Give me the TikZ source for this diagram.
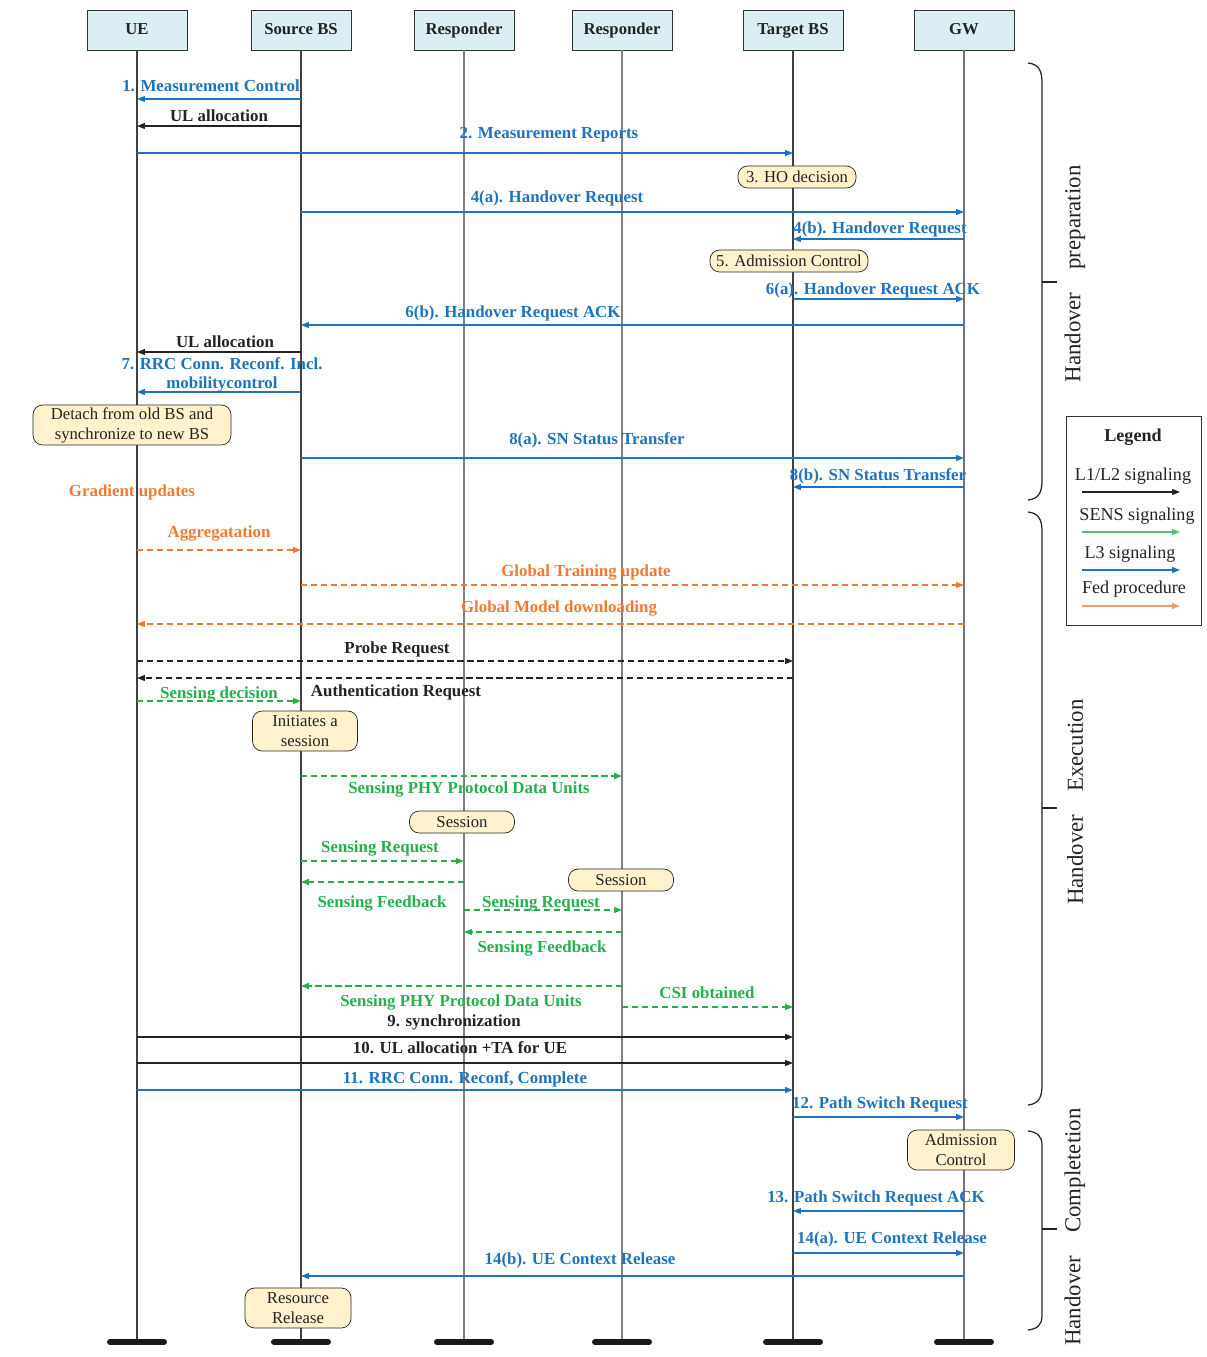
\documentclass[tikz,border=0pt]{standalone}
\usepackage{fontspec}
\setmainfont{Liberation Serif}
\usetikzlibrary{arrows.meta}

\definecolor{l3blue}{RGB}{30,115,190}
\definecolor{fedorange}{RGB}{240,122,50}
\definecolor{sensgreen}{RGB}{38,176,76}
\definecolor{headblue}{RGB}{218,238,243}
\definecolor{notefill}{RGB}{255,242,204}
\definecolor{inkblack}{RGB}{35,35,35}

\newcommand{\lblfont}{\fontsize{9.6pt}{11pt}\selectfont\bfseries}
\newcommand{\notefont}{\fontsize{9.5pt}{11.3pt}\selectfont}
\newcommand{\phasefont}{\fontsize{13pt}{15pt}\selectfont}
\newcommand{\legfont}{\fontsize{10.3pt}{12pt}\selectfont}

\tikzset{
  >={Triangle[length=4.5pt,width=3.4pt]},
  actor/.style={draw=black!80, fill=headblue, minimum width=2cm, minimum height=0.8cm, inner sep=1pt, text height=6.6pt, text depth=1.4pt, font=\notefont\bfseries, text=inkblack},
  endbar/.style={line width=3.4pt, line cap=round, draw=black!90},
  note/.style={draw=black!85, fill=notefill, rounded corners=5.5pt, align=center, inner sep=1pt, font=\notefont, text=inkblack},
  lbl/.style={font=\lblfont, inner sep=0pt, align=center},
  l12/.style={draw=inkblack, line width=0.6pt, ->},
  l12d/.style={l12, dash pattern=on 3.5pt off 2.2pt},
  l3/.style={draw=l3blue, line width=0.6pt, ->},
  fed/.style={draw=fedorange, line width=0.6pt, dash pattern=on 3.5pt off 2.2pt, ->},
  sens/.style={draw=sensgreen, line width=0.6pt, dash pattern=on 3.5pt off 2.2pt, ->},
  phase/.style={line width=0.7pt, draw=inkblack},
  phasetext/.style={font=\phasefont, rotate=90, text=inkblack, inner sep=0pt}
}

\begin{document}
\begin{tikzpicture}[x=0.02cm, y=-0.02cm]
\useasboundingbox (0,0) rectangle (1207,1357);

% lifeline heads
\node[actor] (ue) at (137,30) {UE};
\node[actor] (sbs) at (301,30) {Source BS};
\node[actor] (r1) at (464,30) {Responder};
\node[actor] (r2) at (622,30) {Responder};
\node[actor] (tbs) at (793,30) {Target BS};
\node[actor] (gw) at (964,30) {GW};

% lifelines and end bars
\foreach \n/\c in {ue/black!75, sbs/black!75, r1/black!50, r2/black!50, tbs/black!75, gw/black!55}{
\draw[draw=\c, line width=0.7pt] (\n.south) -- (\n |- 0,1342) coordinate (\n-end);
\draw[endbar] ([xshift=-0.54cm]\n-end) -- ([xshift=0.54cm]\n-end);
}

% messages
\foreach \a/\b/\y/\s in {sbs/ue/99/l3, sbs/ue/126/l12, ue/tbs/153/l3, sbs/gw/212/l3,
  gw/tbs/239/l3, tbs/gw/299/l3, gw/sbs/325/l3, sbs/ue/352/l12, sbs/ue/392/l3,
  sbs/gw/458/l3, gw/tbs/487/l3, ue/sbs/550/fed, sbs/gw/585/fed, gw/ue/624/fed,
  ue/tbs/661/l12d, tbs/ue/678/l12d, ue/sbs/701/sens, sbs/r2/776/sens,
  sbs/r1/861/sens, r1/sbs/882/sens, r1/r2/910/sens, r2/r1/932/sens,
  r2/sbs/986/sens, r2/tbs/1007/sens, ue/tbs/1037/l12, ue/tbs/1063/l12,
  ue/tbs/1090/l3, tbs/gw/1117/l3, gw/tbs/1211/l3, tbs/gw/1253/l3, gw/sbs/1276/l3}{
\draw[\s] (\a |- 0,\y) -- (\b |- 0,\y);
}

% notes
\node[note, minimum width=2.36cm, minimum height=0.44cm] (hod) at (797,177) {3. HO decision};
\node[note, minimum width=3.16cm, minimum height=0.44cm] (adm) at (789,261) {5. Admission Control};
\node[note, minimum width=3.96cm, minimum height=0.8cm] (detach) at (132,425) {Detach from old BS and\\synchronize to new BS};
\node[note, minimum width=2.1cm, minimum height=0.8cm] (init) at (305,731) {Initiates a\\session};
\node[note, minimum width=2.1cm, minimum height=0.44cm] (ses1) at (462,822) {Session};
\node[note, minimum width=2.1cm, minimum height=0.44cm] (ses2) at (621,880) {Session};
\node[note, minimum width=2.14cm, minimum height=0.8cm] (adm2) at (961,1150) {Admission\\Control};
\node[note, minimum width=2.12cm, minimum height=0.8cm] (rel) at (298,1308) {Resource\\Release};

% labels
\node[lbl, text=l3blue] (t1) at (211,86) {1. Measurement Control};
\node[lbl, text=inkblack] (t2) at (219,116) {UL allocation};
\node[lbl, text=l3blue] (t3) at (549,135) {2. Measurement Reports};
\node[lbl, text=l3blue] (t4a) at (557,198) {4(a). Handover Request};
\node[lbl, text=l3blue] (t4b) at (880,229) {4(b). Handover Request};
\node[lbl, text=l3blue] (t6a) at (873,290) {6(a). Handover Request ACK};
\node[lbl, text=l3blue] (t6b) at (513,313) {6(b). Handover Request ACK};
\node[lbl, text=inkblack] (t7) at (225,342) {UL allocation};
\node[lbl, text=l3blue] (t8) at (222,375) {7. RRC Conn. Reconf. Incl.\\mobilitycontrol};
\node[lbl, text=l3blue] (t9) at (597,440) {8(a). SN Status Transfer};
\node[lbl, text=l3blue] (t10) at (878,476) {8(b). SN Status Transfer};
\node[lbl, text=fedorange] (t11) at (132,492) {Gradient updates};
\node[lbl, text=fedorange] (t12) at (219,533) {Aggregatation};
\node[lbl, text=fedorange] (t13) at (586,572) {Global Training update};
\node[lbl, text=fedorange] (t14) at (559,608) {Global Model downloading};
\node[lbl, text=inkblack] (t15) at (397,649) {Probe Request};
\node[lbl, text=inkblack] (t16) at (396,692) {Authentication Request};
\node[lbl, text=sensgreen] (t17) at (219,694) {Sensing decision};
\node[lbl, text=sensgreen] (t18) at (469,789) {Sensing PHY Protocol Data Units};
\node[lbl, text=sensgreen] (t19) at (380,848) {Sensing Request};
\node[lbl, text=sensgreen] (t20) at (382,903) {Sensing Feedback};
\node[lbl, text=sensgreen] (t21) at (541,903) {Sensing Request};
\node[lbl, text=sensgreen] (t22) at (542,948) {Sensing Feedback};
\node[lbl, text=sensgreen] (t23) at (461,1002) {Sensing PHY Protocol Data Units};
\node[lbl, text=sensgreen] (t24) at (707,993) {CSI obtained};
\node[lbl, text=inkblack] (t25) at (454,1022) {9. synchronization};
\node[lbl, text=inkblack] (t26) at (460,1048) {10. UL allocation +TA for UE};
\node[lbl, text=l3blue] (t27) at (465,1079) {11. RRC Conn. Reconf, Complete};
\node[lbl, text=l3blue] (t28) at (880,1104) {12. Path Switch Request};
\node[lbl, text=l3blue] (t29) at (876,1198) {13. Path Switch Request ACK};
\node[lbl, text=l3blue] (t30) at (892,1239) {14(a). UE Context Release};
\node[lbl, text=l3blue] (t31) at (580,1260) {14(b). UE Context Release};

% phases
\draw[phase] (1028,63) .. controls (1038,64) and (1042,70) .. (1042,82) -- (1042,481) .. controls (1042,493) and (1038,499) .. (1028,500);
\draw[phase] (1042,282) -- (1057,282);
\draw[phase] (1028,512) .. controls (1038,513) and (1042,519) .. (1042,531) -- (1042,1086) .. controls (1042,1098) and (1038,1104) .. (1028,1105);
\draw[phase] (1042,808) -- (1057,808);
\draw[phase] (1028,1131) .. controls (1037,1132) and (1042,1136) .. (1042,1145) -- (1042,1316) .. controls (1042,1325) and (1037,1329) .. (1028,1330);
\draw[phase] (1042,1229) -- (1057,1229);
\node[phasetext] (ph1) at (1075,274) {Handover\quad preparation};
\node[phasetext] (ph2) at (1075,802) {Handover\quad Execution};
\node[phasetext] (ph3) at (1075,1227) {Handover\quad Completetion};

% legend
\node[draw=black!80, minimum width=2.7cm, minimum height=4.18cm, inner sep=0pt] (leg) at (1133.5,520.5) {};
\node[font=\legfont\bfseries, text=inkblack] (legt) at (1133,437) {Legend};
\node[font=\legfont, text=inkblack] (lg1) at (1133,476) {L1/L2 signaling};
\node[font=\legfont, text=inkblack] (lg2) at (1137,516) {SENS signaling};
\node[font=\legfont, text=inkblack] (lg3) at (1130,554) {L3 signaling};
\node[font=\legfont, text=inkblack] (lg4) at (1134,589) {Fed procedure};
\draw[l12] (1082,492) -- (1180,492);
\draw[draw=sensgreen!80, line width=0.6pt, ->] (1082,532) -- (1180,532);
\draw[l3] (1082,570) -- (1180,570);
\draw[draw=fedorange!75, line width=0.6pt, ->] (1082,606) -- (1180,606);
\end{tikzpicture}
\end{document}
